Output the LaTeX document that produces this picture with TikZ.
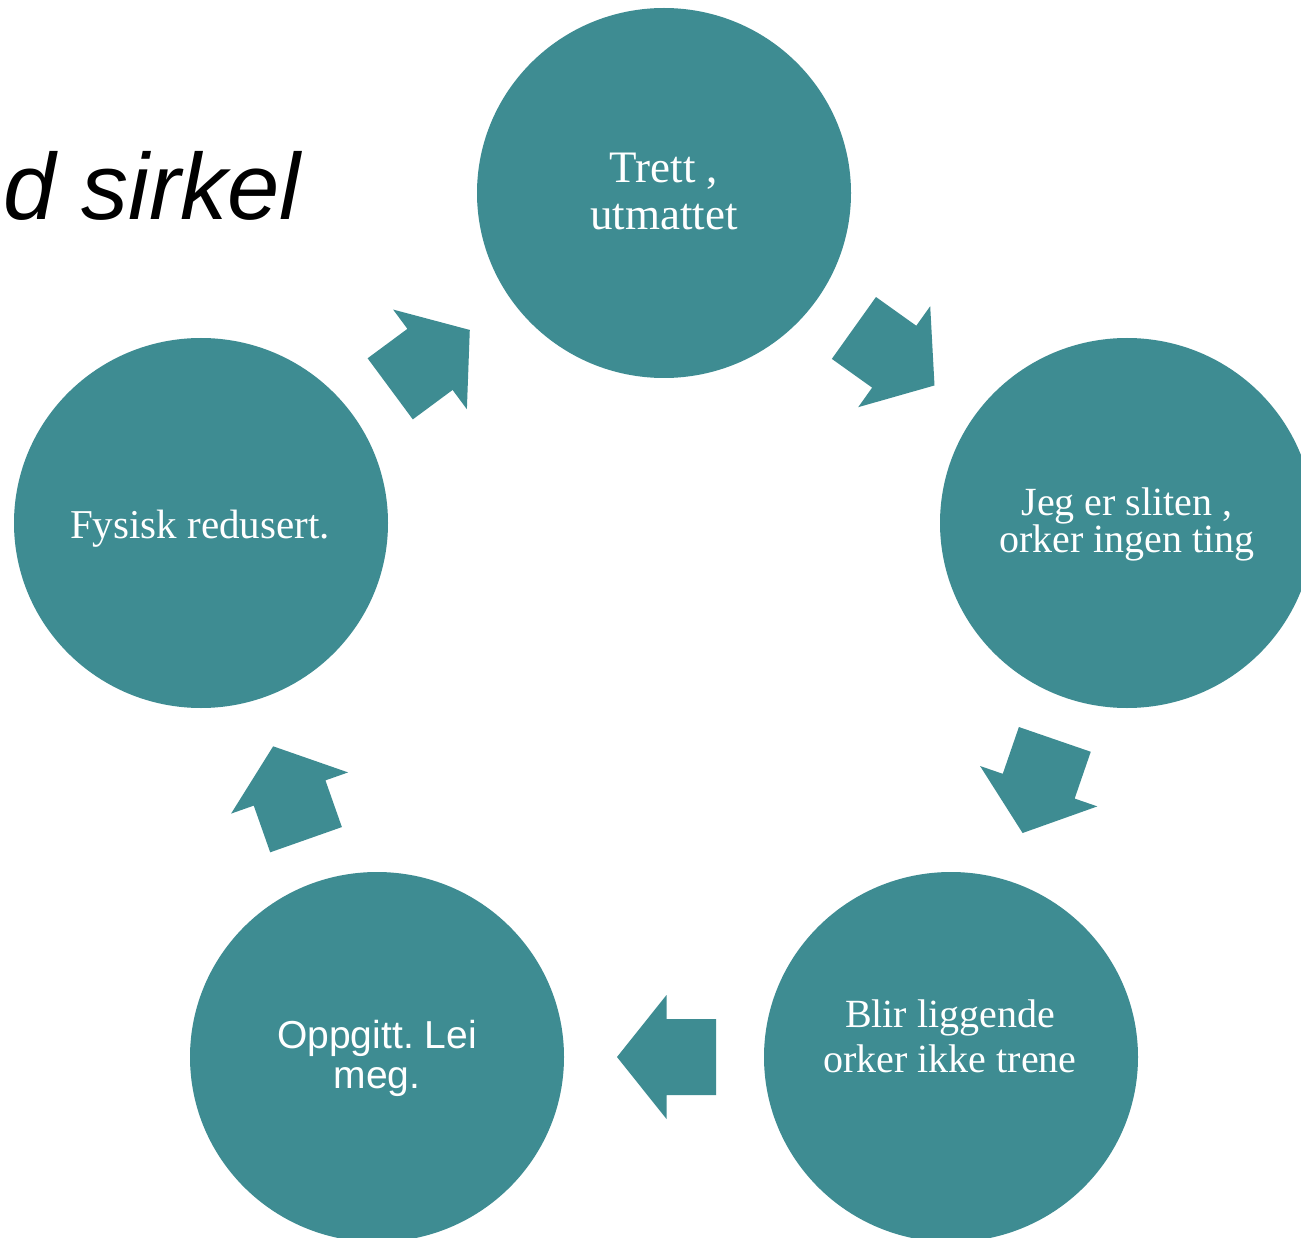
\documentclass[tikz,border=0pt]{standalone}
\usepackage{fontspec}
\setmainfont{Liberation Serif}
\newfontfamily\arialfont{Liberation Sans}
\usetikzlibrary{shapes.geometric}
\frenchspacing
\definecolor{teal}{RGB}{62,140,146}
\tikzset{
  stage/.style={ellipse, fill=teal, draw=none, minimum width=374pt, minimum height=370pt, inner sep=0pt},
  lbl/.style={text=white, anchor=base, inner sep=0pt},
  blockarrow/.pic={
    \fill[teal] (-49.5,-38) -- (0,-38) -- (0,-62) -- (49.5,0) -- (0,62) -- (0,38) -- (-49.5,38) -- cycle;
  }
}
\begin{document}
\begin{tikzpicture}[x=1pt,y=1pt]
  \useasboundingbox (0,0) rectangle (1301,-1238);
  \clip (0,0) rectangle (1301,-1238);
  \fill[white] (0,0) rectangle (1301,-1238);

  % title fragment
  \node[anchor=base west, inner sep=0pt] (title) at (3,-220)
    {\fontsize{94}{104}\selectfont\arialfont\itshape d sirkel};

  % the five stages of the cycle
  \node[stage] (top)   at (664,-193)  {};
  \node[stage] (right) at (1127,-523) {};
  \node[stage] (br)    at (951,-1057) {};
  \node[stage] (bl)    at (377,-1057) {};
  \node[stage] (left)  at (201,-523)  {};

  % stage texts
  \node[lbl] (top1) at (664,-183) {\fontsize{45}{49}\selectfont Trett ,};
  \node[lbl] (top2) at (664,-230) {\fontsize{45}{49}\selectfont utmattet};
  \node[lbl] (right1) at (1127,-515) {\fontsize{40}{44}\selectfont Jeg er sliten ,};
  \node[lbl] (right2) at (1127,-552) {\fontsize{40}{44}\selectfont orker ingen ting};
  \node[lbl] (br1) at (950,-1027) {\fontsize{40}{44}\selectfont Blir liggende};
  \node[lbl] (br2) at (950,-1072) {\fontsize{40}{44}\selectfont orker ikke trene};
  \node[lbl] (bl1) at (377,-1048) {\fontsize{39}{43}\selectfont\arialfont Oppgitt. Lei};
  \node[lbl] (bl2) at (377,-1088) {\fontsize{39}{43}\selectfont\arialfont meg.};
  \node[lbl] (left1) at (200,-538) {\fontsize{41}{45}\selectfont Fysisk redusert.};

  % block arrows between the stages
  \pic[rotate=36.5]  (a1) at (430,-359.4)   {blockarrow};
  \pic[rotate=-35.5] (a2) at (894.2,-356.7) {blockarrow};
  \pic[rotate=-109]  (a3) at (1038.7,-786.2) {blockarrow};
  \pic[rotate=180]   (a4) at (666.5,-1057)  {blockarrow};
  \pic[rotate=109.4] (a5) at (289.6,-793)   {blockarrow};
\end{tikzpicture}
\end{document}
